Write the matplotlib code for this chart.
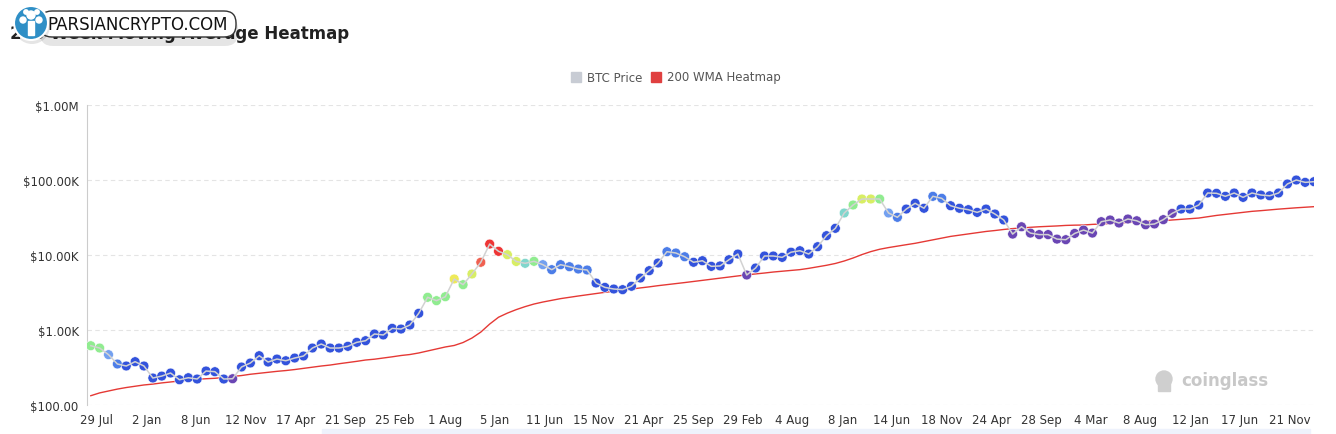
import pandas as pd
import matplotlib
matplotlib.use('Agg')
import matplotlib.pyplot as plt
from matplotlib.patches import FancyBboxPatch, Circle, Rectangle

price = [617, 575, 469, 352, 331, 378, 331, 229, 243, 267,
         217, 231, 222, 284, 278, 222, 224, 321, 363, 454,
         374, 410, 389, 423, 450, 575, 650, 575, 575, 606,
         685, 720, 885, 858, 1052, 1030, 1166, 1670, 2730, 2460,
         2780, 4790, 4020, 5580, 8000, 14000, 11200, 10100, 8200, 7750,
         8240, 7430, 6370, 7430, 6980, 6500, 6310, 4230, 3700, 3520,
         3450, 3830, 4930, 6180, 7820, 11070, 10640, 9480, 8000, 8390,
         7060, 7150, 8650, 10300, 5410, 6710, 9700, 9700, 9300, 10900,
         11400, 10300, 12900, 18100, 22700, 36300, 46400, 55800, 55800, 55800,
         36300, 31800, 41000, 48900, 42000, 60600, 57000, 45400, 42000, 40200,
         37000, 41000, 35200, 29300, 19000, 23800, 19600, 18700, 18700, 16300,
         16000, 19400, 21500, 19600, 27800, 29300, 26700, 30200, 28600, 25300,
         25900, 29600, 35900, 41000, 41000, 46400, 67100, 66500, 60600, 67100,
         58700, 67100, 63100, 61600, 67100, 88500, 100000, 93000, 95000]

# 200 week moving average at the same dates
wma = [133, 145, 154, 163, 171, 178, 185, 190, 197, 203,
       209, 215, 220, 224, 227, 233, 240, 247, 257, 265,
       273, 281, 288, 297, 308, 319, 331, 341, 355, 368,
       382, 398, 408, 423, 439, 457, 471, 494, 525, 558,
       594, 622, 681, 781, 938, 1200, 1480, 1680, 1870, 2050,
       2220, 2360, 2490, 2620, 2730, 2840, 2950, 3060, 3180, 3280,
       3400, 3510, 3640, 3760, 3900, 4030, 4160, 4290, 4430, 4590,
       4750, 4930, 5100, 5270, 5440, 5590, 5750, 5930, 6080, 6230,
       6380, 6640, 6960, 7290, 7710, 8320, 9120, 10130, 11100, 11930,
       12560, 13140, 13720, 14320, 15100, 15900, 16800, 17700, 18400, 19100,
       19900, 20600, 21200, 21900, 22500, 22900, 23400, 23800, 24100, 24400,
       24800, 25000, 25100, 25600, 25900, 26300, 26700, 27200, 27600, 28000,
       28500, 28600, 29300, 29900, 30600, 31100, 32400, 33700, 34800, 36000,
       37100, 38200, 39000, 40000, 40900, 41800, 42600, 43400, 44100]

# heat level of each point
heat = (['green'] * 2 + ['lightblue', 'midblue'] + ['blue'] * 12 + ['purple']
        + ['blue'] * 21 + ['green'] * 3 + ['yellow', 'green', 'lime', 'orange', 'red', 'red',
        'lime', 'lime', 'cyan', 'green', 'lightblue'] + ['midblue'] * 5 + ['blue'] * 8
        + ['midblue'] * 3 + ['blue'] * 6 + ['purple'] + ['blue'] * 10
        + ['cyan', 'green', 'lime', 'lime', 'green', 'lightblue', 'midblue']
        + ['blue'] * 3 + ['midblue'] * 2 + ['blue'] * 7 + ['purple'] * 19 + ['blue'] * 16)

heat_colors = {'purple': '#6a46b4', 'blue': '#3353dc', 'midblue': '#4c7de8',
               'lightblue': '#73a0f0', 'cyan': '#80d6cc', 'green': '#90ec90',
               'lime': '#d8ee64', 'yellow': '#eeea58', 'orange': '#f06050',
               'red': '#ee3535'}

dates = pd.date_range('2014-07-10', periods=len(price), freq='28D')
tick_dates = pd.date_range('2014-07-29', periods=25, freq='157D')
tick_labels = [str(d.day) + ' ' + d.strftime('%b') for d in tick_dates]
y_ticks = [100, 1e3, 1e4, 1e5, 1e6]
y_labels = ['$100.00', '$1.00K', '$10.00K', '$100.00K', '$1.00M']

fig = plt.figure(figsize=(13.36, 4.35), dpi=100)
ax = fig.add_axes([87 / 1336, 29 / 435, 1227 / 1336, 300 / 435])

ax.plot(dates, wma, color='#e53935', lw=1.0, zorder=2)
ax.scatter(dates, price, s=50, c=[heat_colors[h] for h in heat],
           edgecolors='white', linewidths=0.4, zorder=3)
ax.plot(dates, price, color='#d2d2d2', lw=1.1, zorder=4)

ax.set_yscale('log')
ax.set_ylim(100, 1e6)
ax.set_xlim(pd.Timestamp('2014-06-28'), dates[-1])
ax.set_yticks(y_ticks)
ax.set_yticklabels(y_labels)
ax.minorticks_off()
ax.set_xticks(tick_dates)
ax.set_xticklabels(tick_labels)
ax.tick_params(length=0, labelsize=8.5, colors='#333333', pad=6)
ax.grid(axis='y', color='#e4e4e4', ls=(0, (4, 3)), lw=0.8)
for s in ['top', 'right', 'bottom']:
    ax.spines[s].set_visible(False)
ax.spines['left'].set_color('#cccccc')

# overlay in pixel units for the decorations
ov = fig.add_axes([0, 0, 1, 1], zorder=10)
ov.set_xlim(0, 1336)
ov.set_ylim(435, 0)
ov.axis('off')

# legend
ov.add_patch(Rectangle((571, 73), 10, 10, color='#c8ccd4'))
ov.text(587, 78, 'BTC Price', fontsize=8.5, color='#555555', va='center')
ov.add_patch(Rectangle((651, 73), 10, 10, color='#e04040'))
ov.text(667, 78, '200 WMA Heatmap', fontsize=8.5, color='#555555', va='center')

# title, partly hidden under the site badge
ov.text(10, 34, '200 Week Moving Average Heatmap', fontsize=12,
        fontweight='bold', color='#222222', va='center', zorder=1)
ov.add_patch(FancyBboxPatch((40, 17), 198, 30, boxstyle='round,pad=0,rounding_size=13',
                            facecolor='#000000', alpha=0.10, lw=0, zorder=2))
ov.add_patch(FancyBboxPatch((40, 12), 196, 26, boxstyle='round,pad=0,rounding_size=12',
                            facecolor='white', edgecolor='#333333', lw=1.0, zorder=3))
ov.text(47, 25.5, 'PARSIANCRYPTO.COM', fontsize=12, color='#111111', va='center', zorder=6)
ov.add_patch(Circle((32, 27), 18, facecolor='#000000', alpha=0.10, lw=0, zorder=3))
ov.add_patch(Circle((31, 24), 17, facecolor='#2f8fc6', edgecolor='white', lw=1.5, zorder=4))
ov.add_patch(Rectangle((28, 22), 6, 14, color='white', zorder=5))
for cx, cy, r in [(31, 16, 4), (23, 21, 3), (39, 21, 3), (26, 13, 2.2), (37, 13, 2.2)]:
    ov.add_patch(Circle((cx, cy), r, color='white', zorder=5))

# watermark
ov.text(1181, 381, 'coinglass', fontsize=12, fontweight='bold', color='#c8c8c8', va='center')
ov.add_patch(Circle((1164, 380), 8, color='#cfcfcf'))
ov.add_patch(Rectangle((1158, 382), 12, 10, color='#cfcfcf'))

# range slider strip
ov.add_patch(Rectangle((322, 430), 988, 5, color='#eef2fc'))

fig.savefig('out.png', dpi=100)
